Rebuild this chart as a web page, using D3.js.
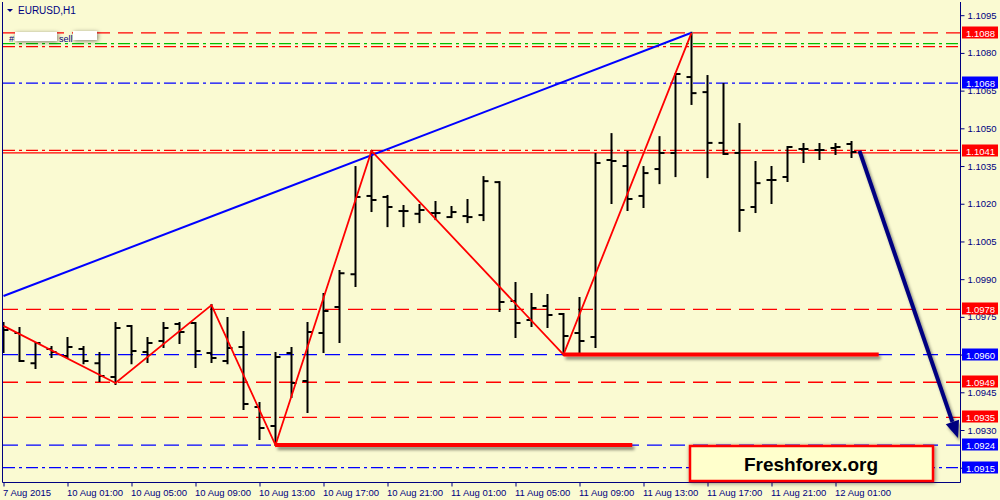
<!DOCTYPE html>
<html>
<head>
<meta charset="utf-8">
<script src="https://cdn.jsdelivr.net/npm/d3@7"></script>
<style>
  body { margin: 0; background: #fafad2; }
  svg { display: block; font-family: "Liberation Sans", Arial, sans-serif; }
</style>
</head>
<body>
<svg id="chart" width="1000" height="500"></svg>
<script>
/**************************************/
/* Chart data (EURUSD, H1)            */
/**************************************/

// time labels under the axis, one every 4 bars
const timeLabels = ["7 Aug 2015", "10 Aug 01:00", "10 Aug 05:00", "10 Aug 09:00", "10 Aug 13:00",
    "10 Aug 17:00", "10 Aug 21:00", "11 Aug 01:00", "11 Aug 05:00", "11 Aug 09:00",
    "11 Aug 13:00", "11 Aug 17:00", "11 Aug 21:00", "12 Aug 01:00"];

// hourly OHLC
const opens = [1.09718, 1.09686, 1.09566, 1.09622, 1.09594, 1.09622, 1.09566, 1.09511, 1.09714, 1.09610,
    1.09654, 1.09722, 1.09726, 1.09606, 1.09574, 1.09630, 1.09391, 1.09316, 1.09606, 1.09495,
    1.09686, 1.09789, 1.09920, 1.10231, 1.10227, 1.10171, 1.10160, 1.10163, 1.10147, 1.10151,
    1.10155, 1.10286, 1.09813, 1.09738, 1.09793, 1.09761, 1.09686, 1.09670, 1.10374, 1.10350,
    1.10231, 1.10338, 1.10402, 1.10704, 1.10644, 1.10442, 1.10402, 1.10187, 1.10294, 1.10306,
    1.10418, 1.10414, 1.10422, 1.10438];
const highs = [1.09726, 1.09706, 1.09646, 1.09630, 1.09666, 1.09630, 1.09606, 1.09726, 1.09714, 1.09666,
    1.09726, 1.09726, 1.09726, 1.09797, 1.09746, 1.09690, 1.09407, 1.09606, 1.09626, 1.09726,
    1.09841, 1.09932, 1.10346, 1.10410, 1.10231, 1.10191, 1.10195, 1.10207, 1.10187, 1.10215,
    1.10306, 1.10286, 1.09885, 1.09841, 1.09837, 1.09761, 1.09825, 1.10398, 1.10477, 1.10406,
    1.10346, 1.10465, 1.10716, 1.10880, 1.10708, 1.10676, 1.10517, 1.10366, 1.10346, 1.10426,
    1.10438, 1.10438, 1.10438, 1.10446];
const lows = [1.09610, 1.09574, 1.09547, 1.09590, 1.09590, 1.09566, 1.09495, 1.09483, 1.09566, 1.09570,
    1.09630, 1.09646, 1.09551, 1.09570, 1.09566, 1.09384, 1.09264, 1.09240, 1.09431, 1.09372,
    1.09610, 1.09650, 1.09873, 1.10171, 1.10111, 1.10111, 1.10127, 1.10139, 1.10147, 1.10127,
    1.10135, 1.09773, 1.09670, 1.09714, 1.09710, 1.09600, 1.09610, 1.09630, 1.10203, 1.10175,
    1.10187, 1.10282, 1.10310, 1.10597, 1.10306, 1.10398, 1.10092, 1.10167, 1.10203, 1.10290,
    1.10366, 1.10378, 1.10398, 1.10386];
const closes = [1.09698, 1.09574, 1.09646, 1.09610, 1.09630, 1.09574, 1.09515, 1.09706, 1.09614, 1.09646,
    1.09706, 1.09690, 1.09614, 1.09586, 1.09626, 1.09403, 1.09308, 1.09590, 1.09487, 1.09690,
    1.09773, 1.09924, 1.10227, 1.10215, 1.10187, 1.10171, 1.10175, 1.10163, 1.10167, 1.10147,
    1.10290, 1.09809, 1.09726, 1.09785, 1.09757, 1.09674, 1.09654, 1.10362, 1.10370, 1.10219,
    1.10322, 1.10402, 1.10716, 1.10640, 1.10442, 1.10398, 1.10175, 1.10282, 1.10294, 1.10426,
    1.10418, 1.10414, 1.10426, 1.10406];

// price scale ticks
const priceTicks = [1.0915, 1.0930, 1.0945, 1.0960, 1.0975, 1.0990, 1.1005, 1.1020,
    1.1035, 1.1050, 1.1065, 1.1080, 1.1095];

// horizontal levels and their kind
const levelPrices = [1.1088, 1.10837, 1.10825, 1.1068, 1.10412, 1.10402, 1.0978, 1.0960, 1.0949, 1.0935, 1.0924, 1.0915];
const levelKinds = ["redDash", "greenDashDot", "redDashDot", "blueDashDot", "redDashDot", "redSolid",
    "redDash", "blueDash", "redDash", "redDash", "blueDash", "blueDashDot"];

// price tags on the scale
const tagPrices = [1.1088, 1.1068, 1.1041, 1.0978, 1.0960, 1.0949, 1.0935, 1.0924, 1.0915];
const tagKinds = ["red", "blue", "red", "red", "blue", "red", "red", "blue", "blue"];

// zigzag swing points (bar index, price)
const zigzagBars = [0, 7, 13, 17, 23, 35, 43];
const zigzagPrices = [1.09714, 1.09487, 1.09797, 1.0924, 1.1041, 1.0960, 1.1088];

// blue trend line
const trendBars = [0, 43];
const trendPrices = [1.09833, 1.1088];

// thick support segments: start bar, end bar, price
const supportStart = [17, 35];
const supportEnd = [39.3, 54.7];
const supportPrices = [1.0924, 1.0960];

// forecast arrow
const arrowBars = [53.5, 59.65];
const arrowPrices = [1.1041, 1.09268];

/**************************************/
/* Setup                              */
/**************************************/
const svg = d3.select("#chart");
const plotRight = 960.5;
const plotBottom = 482.5;
const navy = "#000080";

const xScale = d3.scaleLinear().domain([0, 53]).range([3.5, 851.5]);
const yScale = d3.scaleLinear().domain([1.0930, 1.1095]).range([430, 15.2]);

const styles = {
    redDash: { color: "#ff0000", dash: "15,8" },
    redDashDot: { color: "#ff0000", dash: "12,4,3,4" },
    redSolid: { color: "#ff0000", dash: null },
    greenDashDot: { color: "#00c000", dash: "12,4,3,4" },
    blueDash: { color: "#0000ff", dash: "15,8" },
    blueDashDot: { color: "#0000ff", dash: "12,4,3,4" }
};

// shadows (user space so flat lines still get a filter region)
const defs = svg.append("defs");
const shadow = defs.append("filter").attr("id", "shadow")
    .attr("filterUnits", "userSpaceOnUse")
    .attr("x", 0).attr("y", 0).attr("width", 1000).attr("height", 500);
shadow.append("feDropShadow")
    .attr("dx", 2).attr("dy", 3).attr("stdDeviation", 1.5)
    .attr("flood-color", "#000").attr("flood-opacity", 0.45);
const glow = defs.append("filter").attr("id", "glow")
    .attr("filterUnits", "userSpaceOnUse")
    .attr("x", 0).attr("y", 0).attr("width", 1000).attr("height", 500);
glow.append("feDropShadow")
    .attr("dx", 1).attr("dy", 1).attr("stdDeviation", 2)
    .attr("flood-color", "#000").attr("flood-opacity", 0.5);

const clip = defs.append("clipPath").attr("id", "plot");
clip.append("rect").attr("x", 2.5).attr("y", 0).attr("width", plotRight - 2.5).attr("height", plotBottom);

const plot = svg.append("g").attr("clip-path", "url(#plot)");

/**************************************/
/* Horizontal levels                  */
/**************************************/
plot.selectAll(".level")
    .data(levelPrices)
    .join("line")
    .attr("class", "level")
    .attr("x1", 3)
    .attr("x2", plotRight)
    .attr("y1", d => yScale(d))
    .attr("y2", d => yScale(d))
    .attr("stroke", (d, i) => styles[levelKinds[i]].color)
    .attr("stroke-width", 1.3)
    .attr("stroke-dasharray", (d, i) => styles[levelKinds[i]].dash);

/**************************************/
/* Bars                               */
/**************************************/
const bars = plot.append("g")
    .selectAll("g")
    .data(opens.map((o, i) => ({ i, o, h: highs[i], l: lows[i], c: closes[i] })))
    .join("g")
    .attr("stroke", "#000")
    .attr("stroke-width", 2);

bars.append("line")
    .attr("x1", d => xScale(d.i)).attr("x2", d => xScale(d.i))
    .attr("y1", d => yScale(d.h) - 1).attr("y2", d => yScale(d.l) + 1);
bars.append("line")
    .attr("x1", d => xScale(d.i) - 5).attr("x2", d => xScale(d.i))
    .attr("y1", d => yScale(d.o)).attr("y2", d => yScale(d.o));
bars.append("line")
    .attr("x1", d => xScale(d.i)).attr("x2", d => xScale(d.i) + 5)
    .attr("y1", d => yScale(d.c)).attr("y2", d => yScale(d.c));

/**************************************/
/* Trend line, zigzag, supports       */
/**************************************/
const line = d3.line().x(d => xScale(d[0])).y(d => yScale(d[1]));

plot.append("path")
    .attr("d", line(trendBars.map((b, i) => [b, trendPrices[i]])))
    .attr("fill", "none")
    .attr("stroke", "#0000ff")
    .attr("stroke-width", 2);

plot.append("path")
    .attr("d", line(zigzagBars.map((b, i) => [b, zigzagPrices[i]])))
    .attr("fill", "none")
    .attr("stroke", "#ff0000")
    .attr("stroke-width", 1.8);

plot.selectAll(".support")
    .data(supportPrices)
    .join("line")
    .attr("class", "support")
    .attr("x1", (d, i) => xScale(supportStart[i]))
    .attr("x2", (d, i) => xScale(supportEnd[i]))
    .attr("y1", d => yScale(d))
    .attr("y2", d => yScale(d))
    .attr("stroke", "#ff0000")
    .attr("stroke-width", 4)
    .attr("filter", "url(#shadow)");

// forecast arrow
const ax1 = xScale(arrowBars[0]), ay1 = yScale(arrowPrices[0]);
const ax2 = xScale(arrowBars[1]), ay2 = yScale(arrowPrices[1]);
const ang = Math.atan2(ay2 - ay1, ax2 - ax1);
const headLen = 17, headW = 7;
const bx = ax2 - headLen * Math.cos(ang), by = ay2 - headLen * Math.sin(ang);
const arrow = plot.append("g").attr("filter", "url(#shadow)");
arrow.append("line")
    .attr("x1", ax1).attr("y1", ay1).attr("x2", bx).attr("y2", by)
    .attr("stroke", navy).attr("stroke-width", 4);
arrow.append("path")
    .attr("d", `M${ax2},${ay2}L${bx + headW * Math.sin(ang)},${by - headW * Math.cos(ang)}L${bx - headW * Math.sin(ang)},${by + headW * Math.cos(ang)}Z`)
    .attr("fill", navy);

/**************************************/
/* Axes and frame                     */
/**************************************/
const yAxis = svg.append("g")
    .attr("transform", `translate(${plotRight},0)`)
    .call(d3.axisRight(yScale).tickValues(priceTicks).tickSize(4).tickFormat(d3.format(".4f")));
yAxis.select(".domain").remove();
yAxis.selectAll("line").attr("stroke", navy);
yAxis.selectAll("text").attr("fill", navy).attr("font-size", 9.5).attr("font-family", "Liberation Sans");

const xAxis = svg.append("g")
    .attr("transform", `translate(0,${plotBottom})`)
    .call(d3.axisBottom(xScale)
        .tickValues(timeLabels.map((t, i) => i * 4))
        .tickSize(4)
        .tickFormat((d, i) => timeLabels[i]));
xAxis.select(".domain").remove();
xAxis.selectAll("line").attr("stroke", navy);
xAxis.selectAll("text")
    .attr("fill", navy)
    .attr("font-size", 9.5)
    .attr("font-family", "Liberation Sans")
    .attr("text-anchor", "start")
    .attr("dx", -1);

svg.append("path")
    .attr("d", `M2.5,2V${plotBottom}H${plotRight}V2`)
    .attr("fill", "none")
    .attr("stroke", navy)
    .attr("stroke-width", 1);

// price tags
const tags = svg.append("g")
    .selectAll("g")
    .data(tagPrices)
    .join("g")
    .attr("transform", d => `translate(962,${Math.round(yScale(d))})`);
tags.append("rect")
    .attr("x", 0).attr("y", -6.5)
    .attr("width", 36).attr("height", 12)
    .attr("fill", (d, i) => tagKinds[i] === "red" ? "#ff0000" : "#0000ff");
tags.append("text")
    .attr("x", 4).attr("y", 3.5)
    .attr("fill", "#fff")
    .attr("font-size", 9.5)
    .text(d => d3.format(".4f")(d));

/**************************************/
/* Title and labels                   */
/**************************************/
svg.append("path").attr("d", "M7,9H13L10,12Z").attr("fill", navy);
svg.append("text")
    .attr("x", 18).attr("y", 14)
    .attr("fill", navy)
    .attr("font-size", 10)
    .text("EURUSD,H1");

svg.append("text").attr("x", 9).attr("y", 42).attr("font-size", 9).attr("fill", navy).text("#");
svg.append("text").attr("x", 59).attr("y", 42).attr("font-size", 9).attr("fill", navy).text("sell");
svg.append("rect").attr("x", 15).attr("y", 32).attr("width", 42).attr("height", 9)
    .attr("fill", "#fff").attr("filter", "url(#glow)");
svg.append("rect").attr("x", 73).attr("y", 31).attr("width", 24).attr("height", 9)
    .attr("fill", "#fff").attr("filter", "url(#glow)");

// watermark box
const box = svg.append("g");
box.append("rect")
    .attr("x", 690).attr("y", 446)
    .attr("width", 243).attr("height", 35)
    .attr("fill", "#ffffcc")
    .attr("stroke", "#ff0000")
    .attr("stroke-width", 2.5)
    .attr("filter", "url(#glow)");
box.append("text")
    .attr("x", 811).attr("y", 471)
    .attr("text-anchor", "middle")
    .attr("font-size", 19)
    .attr("font-weight", "bold")
    .attr("fill", "#000")
    .text("Freshforex.org");
</script>
</body>
</html>
